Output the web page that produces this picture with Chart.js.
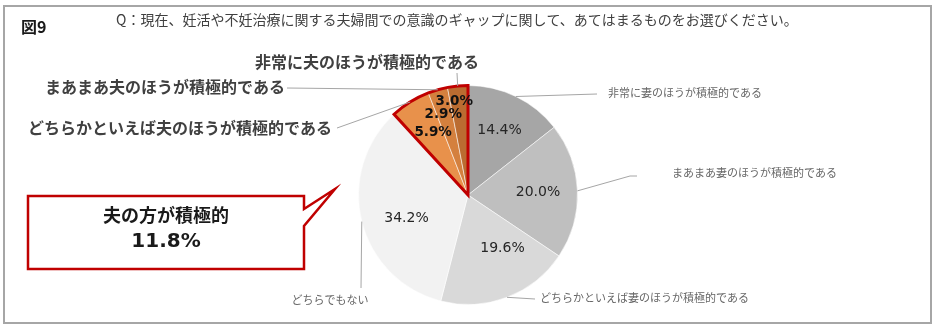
<!DOCTYPE html>
<html lang="ja">
<head>
<meta charset="utf-8">
<title>図9 夫婦間での意識のギャップ</title>
<script src="https://cdn.jsdelivr.net/npm/chart.js@4.4.0/dist/chart.umd.min.js"></script>
<style>
  html, body { margin: 0; padding: 0; background: #fff; }
  #wrap { position: relative; width: 940px; height: 326px; }
</style>
</head>
<body>
<div id="wrap"><canvas id="gapChart"></canvas></div>
<script>
// 回答データ（%）
const categories = [
  "非常に妻のほうが積極的である",
  "まあまあ妻のほうが積極的である",
  "どちらかといえば妻のほうが積極的である",
  "どちらでもない",
  "どちらかといえば夫のほうが積極的である",
  "まあまあ夫のほうが積極的である",
  "非常に夫のほうが積極的である"
];
const shares = [14.4, 20.0, 19.6, 34.2, 5.9, 2.9, 3.0];
// 夫側の回答（赤枠でまとめる）
const husbandIdx = [4, 5, 6];

const sliceColors = ["#a6a6a6", "#bfbfbf", "#d9d9d9", "#f2f2f2", "#e8914b", "#d4803e", "#bb6c31"];

// 内側ラベルの位置（半径比・角度の微調整）
const pctRadius = [0.66, 0.64, 0.58, 0.60, 0.65, 0.77, 0.86];
const pctNudge = [0, 0, -12, -6.5, 2.5, -1, -3];

// 外側ラベル：引き出し線の経由点とテキスト位置
const leaders = [
  { pts: [[597, 94]], text: [608, 93], align: "left", strong: false },
  { pts: [[630, 176], [637, 176]], text: [672, 173], align: "left", strong: false },
  { pts: [[535, 299]], text: [540, 298], align: "left", strong: false },
  { pts: [[361, 288]], text: [330, 300], align: "center", strong: false },
  { pts: [[337, 128]], text: [332, 128], align: "right", strong: true },
  { pts: [[287, 88]], text: [285, 87], align: "right", strong: true },
  { pts: [[457, 73]], text: [367, 62], align: "center", strong: true }
];

const JP = "'Noto Sans CJK JP', 'Noto Sans', sans-serif";

function arcPoint(arc, deg, rf) {
  const a = (deg - 90) * Math.PI / 180;
  const r = arc.outerRadius * rf;
  return [arc.x + r * Math.cos(a), arc.y + r * Math.sin(a)];
}

function midDeg(arc) {
  return ((arc.startAngle + arc.endAngle) / 2) * 180 / Math.PI + 90;
}

const decorPlugin = {
  id: "decor",
  beforeDraw(chart) {
    const ctx = chart.ctx;
    ctx.save();
    ctx.fillStyle = "#fff";
    ctx.fillRect(0, 0, chart.width, chart.height);
    ctx.strokeStyle = "#a6a6a6";
    ctx.lineWidth = 2;
    ctx.strokeRect(4, 6, 927, 317);

    ctx.fillStyle = "#1a1a1a";
    ctx.textBaseline = "middle";
    ctx.font = "bold 16px " + JP;
    ctx.fillText("図9", 21, 27);
    ctx.fillStyle = "#404040";
    ctx.font = "14px " + JP;
    ctx.fillText("Q：現在、妊活や不妊治療に関する夫婦間での意識のギャップに関して、あてはまるものをお選びください。", 116, 20);
    ctx.restore();
  },
  afterDatasetsDraw(chart) {
    const ctx = chart.ctx;
    const arcs = chart.getDatasetMeta(0).data;

    // 夫側の扇形をまとめて赤枠で囲む
    const first = arcs[husbandIdx[0]];
    const last = arcs[husbandIdx[husbandIdx.length - 1]];
    ctx.save();
    ctx.strokeStyle = "#c00000";
    ctx.lineWidth = 3;
    ctx.lineJoin = "miter";
    ctx.beginPath();
    ctx.moveTo(first.x, first.y);
    ctx.arc(first.x, first.y, first.outerRadius, first.startAngle, last.endAngle);
    ctx.closePath();
    ctx.stroke();

    // 内側のパーセント表示
    ctx.textAlign = "center";
    ctx.textBaseline = "middle";
    arcs.forEach((arc, i) => {
      const strong = husbandIdx.includes(i);
      const [x, y] = arcPoint(arc, midDeg(arc) + pctNudge[i], pctRadius[i]);
      ctx.fillStyle = strong ? "#111" : "#262626";
      ctx.font = (strong ? "bold 13.5px " : "14px ") + "'DejaVu Sans', sans-serif";
      ctx.fillText(shares[i].toFixed(1) + "%", x, y);
    });

    // 引き出し線と項目名
    arcs.forEach((arc, i) => {
      const L = leaders[i];
      const [sx, sy] = arcPoint(arc, midDeg(arc), 1);
      ctx.strokeStyle = "#a6a6a6";
      ctx.lineWidth = 1;
      ctx.beginPath();
      ctx.moveTo(sx, sy);
      L.pts.forEach(p => ctx.lineTo(p[0], p[1]));
      ctx.stroke();

      ctx.textAlign = L.align;
      ctx.fillStyle = L.strong ? "#404040" : "#666";
      ctx.font = (L.strong ? "bold 16px " : "11px ") + JP;
      ctx.fillText(categories[i], L.text[0], L.text[1]);
    });

    // 吹き出し：夫側の合計
    const husbandTotal = husbandIdx.reduce((s, i) => s + shares[i], 0);
    ctx.fillStyle = "#fff";
    ctx.strokeStyle = "#c00000";
    ctx.lineWidth = 2.5;
    ctx.beginPath();
    ctx.moveTo(28, 196);
    ctx.lineTo(304, 196);
    ctx.lineTo(304, 209);
    ctx.lineTo(335, 189);
    ctx.lineTo(304, 226);
    ctx.lineTo(304, 269);
    ctx.lineTo(28, 269);
    ctx.closePath();
    ctx.fill();
    ctx.stroke();

    ctx.textAlign = "center";
    ctx.fillStyle = "#1a1a1a";
    ctx.font = "bold 18px " + JP;
    ctx.fillText("夫の方が積極的", 166, 215);
    ctx.font = "bold 20px 'DejaVu Sans', sans-serif";
    ctx.fillText(husbandTotal.toFixed(1) + "%", 166, 242);
    ctx.restore();
  }
};

new Chart(document.getElementById("gapChart").getContext("2d"), {
  type: "pie",
  data: {
    labels: categories,
    datasets: [{
      data: shares,
      backgroundColor: sliceColors,
      borderColor: "rgba(255,255,255,0.55)",
      borderWidth: 1
    }]
  },
  options: {
    responsive: true,
    maintainAspectRatio: false,
    animation: false,
    layout: { padding: { left: 358, right: 362, top: 85, bottom: 21 } },
    plugins: {
      legend: { display: false },
      tooltip: { enabled: false }
    }
  },
  plugins: [decorPlugin]
});
</script>
</body>
</html>
